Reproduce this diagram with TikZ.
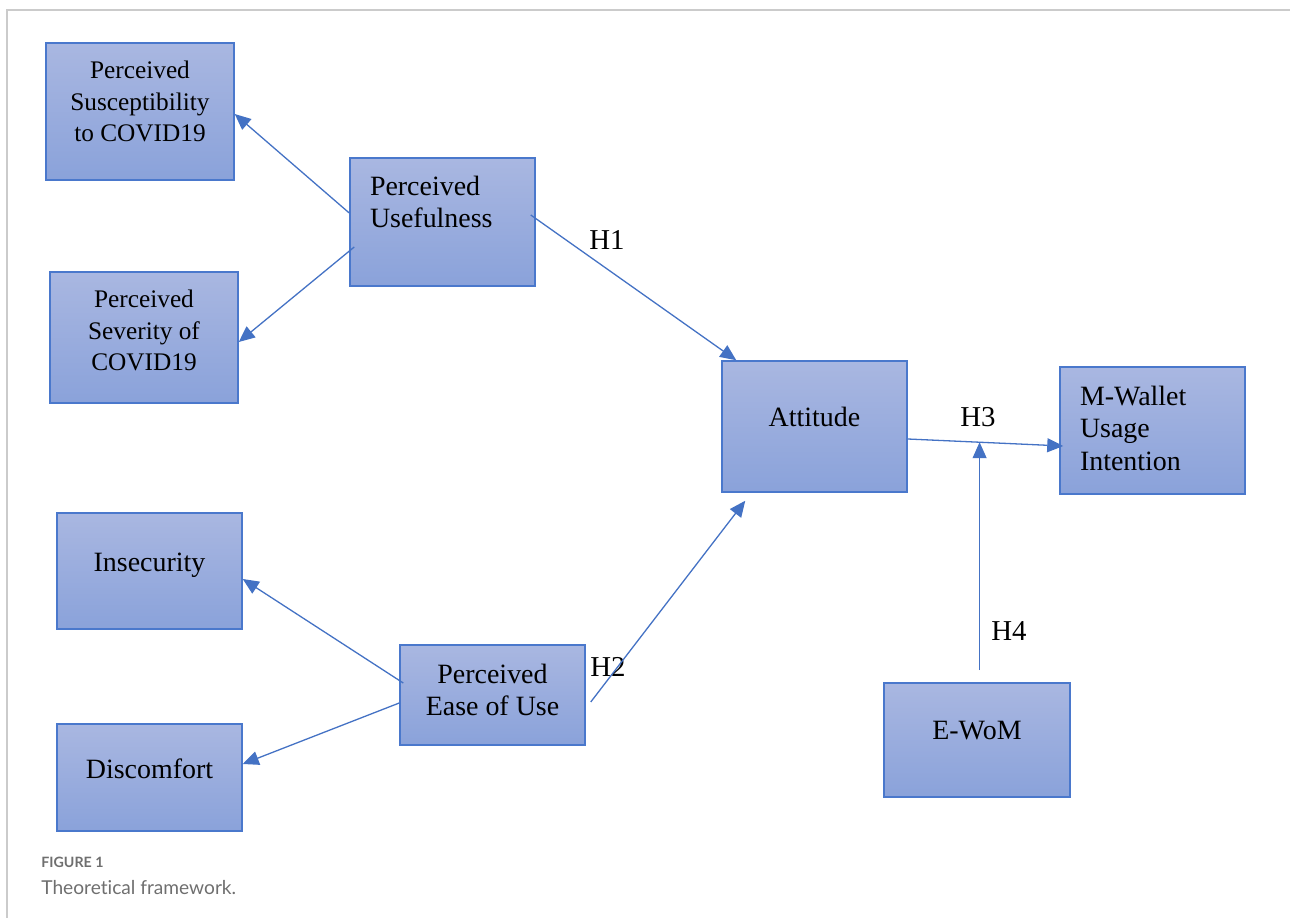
\documentclass[tikz,border=0pt]{standalone}
\usepackage{fontspec}
\setmainfont{Liberation Serif}
\newfontfamily\capfont[Ligatures=NoCommon]{Lato}
\usetikzlibrary{arrows.meta,calc}

\definecolor{boxtop}{HTML}{A9B7E1}
\definecolor{boxbottom}{HTML}{8AA2DA}
\definecolor{boxline}{HTML}{4A78CC}
\definecolor{arrowblue}{HTML}{4472C4}
\definecolor{framegray}{HTML}{CBCBCB}
\definecolor{capgray}{HTML}{6F6F6F}
\newcommand{\drop}[1]{\rule[-#1]{0pt}{#1}}

\begin{document}
\begin{tikzpicture}[x=0.2mm, y=-0.2mm,
    box/.style={rectangle, draw=boxline, line width=0.3mm, top color=boxtop,
                bottom color=boxbottom, align=center, inner sep=1mm,
                font=\fontsize{15.9}{18.7}\selectfont},
    small box/.style={box, font=\fontsize{14.4}{18.1}\selectfont},
    left box/.style={box, align=left, text width=29mm, inner xsep=4mm},
    hyp/.style={font=\fontsize{16.4}{19}\selectfont, inner sep=0pt},
    arr/.style={color=arrowblue, line width=0.26mm,
                -{Triangle[length=3.2mm, width=2.8mm]}}]

  \useasboundingbox (0,0) rectangle (1290,918);
  \draw[framegray, line width=0.4mm] (7,918) -- (7,10) -- (1290,10);

  % constructs
  \node[small box, minimum width=37.6mm, minimum height=27.4mm] (psus) at (140,111.5)
    {Perceived\\Susceptibility\\to COVID19\drop{4.1mm}};
  \node[small box, minimum width=37.6mm, minimum height=26.2mm] (psev) at (144,337.5)
    {Perceived\\Severity of\\COVID19\drop{2.9mm}};
  \node[left box, minimum width=37mm, minimum height=25.6mm] (pu) at (442.5,222)
    {Perceived\\Usefulness\drop{8.1mm}};
  \node[box, minimum width=37mm, minimum height=26.2mm] (att) at (814.5,426.5)
    {Attitude\drop{3.9mm}};
  \node[left box, minimum width=37mm, minimum height=25.4mm] (mw) at (1152.5,430.5)
    {M-Wallet\\Usage\\Intention\drop{0.9mm}};
  \node[box, minimum width=37mm, minimum height=23.2mm] (ins) at (149.5,571)
    {Insecurity\drop{3.7mm}};
  \node[box, minimum width=37mm, minimum height=21.4mm] (dis) at (149.5,777.5)
    {Discomfort\drop{3.7mm}};
  \node[box, minimum width=37mm, minimum height=20mm] (peou) at (492.5,695)
    {Perceived\\Ease of Use\drop{2.1mm}};
  \node[box, minimum width=37.2mm, minimum height=22.8mm] (ewom) at (977,740)
    {E-WoM\drop{3.7mm}};

  % hypotheses
  \node[hyp] (h1) at (607,240) {H1};
  \node[hyp] (h2) at (608,667) {H2};
  \node[hyp] (h3) at (978,417) {H3};
  \node[hyp] (h4) at (1009,631) {H4};

  \path[arr]
  ([yshift=1.8mm]pu.west) edge ([yshift=-0.5mm]psus.east)
  ([xshift=1mm, yshift=-5mm]pu.west) edge ([yshift=-0.9mm]psev.east)
  ([xshift=-1mm, yshift=1.4mm]pu.east) edge ([xshift=3mm]att.north west)
  ([xshift=0.8mm, yshift=2.4mm]peou.west) edge ([yshift=-1.6mm]ins.east)
  ([yshift=-1.6mm]peou.west) edge ([yshift=2.7mm]dis.east)
  ([xshift=1mm, yshift=-1.4mm]peou.east) edge ([xshift=4.8mm, yshift=-1.6mm]att.south west);

  \draw[arr] ([yshift=-2.5mm]att.east) -- coordinate[pos=0.462] (join)
    ([xshift=0.8mm, yshift=-3.1mm]mw.west);
  \coordinate (h4start) at ($(join |- ewom.north)+(0,-12)$);
  \draw[arr] (h4start) -- (join);

  % caption
  \node[anchor=base west, inner sep=0pt, text=capgray,
        font=\capfont\bfseries\fontsize{8.1}{9}\selectfont] (fig) at (41,867) {FIGURE 1};
  \node[anchor=base west, inner sep=0pt, text=capgray,
        font=\capfont\fontsize{10.9}{12}\selectfont] (title) at (41,894) {Theoretical framework.};

\end{tikzpicture}
\end{document}
